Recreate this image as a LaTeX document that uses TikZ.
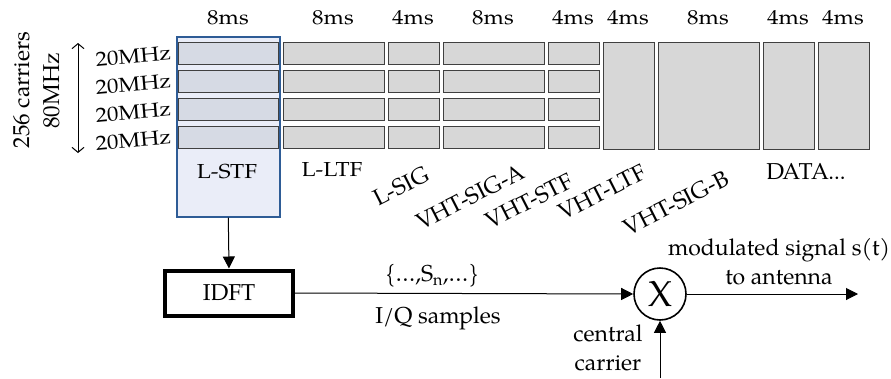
\documentclass[tikz,border=0pt]{standalone}
\usepackage{fontspec}
\setmainfont{TeX Gyre Pagella}
\usetikzlibrary{arrows.meta}
\definecolor{cellfill}{RGB}{215,215,215}
\definecolor{cellline}{RGB}{64,64,64}
\definecolor{stfblue}{RGB}{46,92,150}
\definecolor{stfbg}{RGB}{234,237,248}
\definecolor{stfcell}{RGB}{214,218,228}
\begin{document}
\begin{tikzpicture}[x=1pt,y=-1pt,
  every node/.style={font=\fontsize{23}{29}\selectfont, inner sep=0pt},
  cell/.style={draw=cellline, fill=cellfill, line width=1.2pt, anchor=north west, minimum height=22pt},
  tall/.style={cell, minimum height=107pt},
  stfbox/.style={draw=stfblue, fill=stfbg, line width=1.6pt, anchor=north west},
  topfont/.style={yscale=0.88},
  slant/.style={rotate=27},
  sig/.style={-{Triangle[length=12pt,width=12pt]}, line width=1pt},
]
\useasboundingbox (0,0) rectangle (891,378);

% legacy short training field, highlighted
\node[stfbox, minimum width=103pt, minimum height=180pt] (lstf) at (176,36) {};

% four 20 MHz sub-channels for the legacy and VHT-SIG-A fields
\foreach \r/\y in {1/42,2/70,3/98,4/126}{
  \node[cell, fill=stfcell, minimum width=100pt] (stf\r)  at (178,\y) {};
  \node[cell, minimum width=101pt] (ltf\r)  at (283,\y) {};
  \node[cell, minimum width=51pt]  (lsig\r) at (388,\y) {};
  \node[cell, minimum width=101pt] (siga\r) at (443,\y) {};
  \node[cell, minimum width=51pt]  (vstf\r) at (548,\y) {};
}

% full 80 MHz fields
\node[tall, minimum width=51pt]  (vltf)  at (603,42) {};
\node[tall, minimum width=101pt] (sigb)  at (658,42) {};
\node[tall, minimum width=51pt]  (data1) at (763,42) {};
\node[tall, minimum width=51pt]  (data2) at (818,42) {};

% durations
\node[topfont] (du1) at (228,18) {8ms};
\node[topfont] (du2) at (333,18) {8ms};
\node[topfont] (du3) at (413,18) {4ms};
\node[topfont] (du4) at (493,18) {8ms};
\node[topfont] (du5) at (573,18) {4ms};
\node[topfont] (du6) at (628,18) {4ms};
\node[topfont] (du7) at (708,18) {8ms};
\node[topfont] (du8) at (788,18) {4ms};
\node[topfont] (du9) at (843,18) {4ms};

% bandwidth
\node[rotate=90] (carriers) at (22,90) {256 carriers};
\node[rotate=90] (bw) at (52,91) {80MHz};
\coordinate (bwtop) at (78,43);
\coordinate (bwbot) at (78,153);
\draw[{Straight Barb[length=5pt,width=12pt]}-{Straight Barb[length=5pt,width=12pt]}, line width=1pt] (bwtop) -- (bwbot);
\foreach \r/\y in {1/53,2/81,3/109,4/137}{
  \node[anchor=east, rotate=5, topfont] (mhz\r) at (171,\y) {20MHz};
}

% field names
\node[topfont] (nstf) at (227,172) {L-STF};
\node[topfont] (nltf) at (332,170) {L-LTF};
\node[slant] (nlsig) at (401,186) {L-SIG};
\node[slant] (nsiga) at (470,197) {VHT-SIG-A};
\node[slant] (nvstf) at (529,201) {VHT-STF};
\node[slant] (nvltf) at (602,192) {VHT-LTF};
\node[slant] (nsigb) at (676,203) {VHT-SIG-B};
\node (ndata) at (806,172) {DATA...};

% transmit chain
\node[draw, line width=4pt, minimum width=128pt, minimum height=45pt] (idft) at (229,293) {IDFT};
\node[circle, draw, line width=1.6pt, minimum size=52pt, font=\fontsize{36}{36}\selectfont] (mult) at (660,294) {X};
\coordinate (ant) at (858,294);
\coordinate (lo) at (660,378);

\draw[sig] (lstf.south) -- (idft.north);
\draw[sig] (idft.east) -- (mult.west);
\draw[sig] (mult) -- (ant);
\draw[sig] (lo) -- (mult);

\node (samples) at (432,276) {\{…,S\textsubscript{n},…\}};
\node (iq) at (438,318) {I/Q samples};
\node[align=center] (out) at (779,262) {modulated signal s(t)\\to antenna};
\node[align=center] (carrier) at (608,348) {central\\carrier};
\end{tikzpicture}
\end{document}
